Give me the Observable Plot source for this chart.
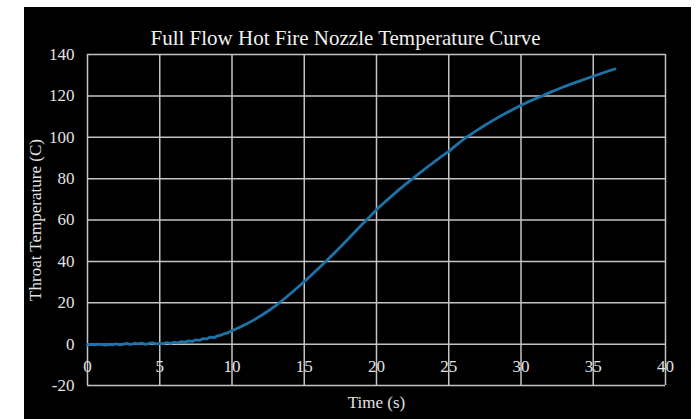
<!DOCTYPE html>
<html>
<head>
<meta charset="utf-8">
<script src="https://cdn.jsdelivr.net/npm/d3@7"></script>
<script src="https://cdn.jsdelivr.net/npm/@observablehq/plot@0.6"></script>
<style>
  html, body { margin: 0; padding: 0; background: #ffffff; }
  #bg { position: absolute; left: 24px; top: 7px; width: 667px; height: 412px; background: #000000; }
  #chart { position: absolute; left: 0; top: 0; }
</style>
</head>
<body>
<div id="bg"></div>
<div id="chart"></div>
<script>
const title = "Full Flow Hot Fire Nozzle Temperature Curve";
const xLabel = "Time (s)";
const yLabel = "Throat Temperature (C)";
const xTicks = [0, 5, 10, 15, 20, 25, 30, 35, 40];
const yTicks = [-20, 0, 20, 40, 60, 80, 100, 120, 140];

const time = [
  0, 0.25, 0.5, 0.75, 1, 1.25, 1.5, 1.75, 2, 2.25, 2.5, 2.75, 3, 3.25, 3.5, 3.75,
  4, 4.25, 4.5, 4.75, 5, 5.25, 5.5, 5.75, 6, 6.25, 6.5, 6.75, 7, 7.25, 7.5, 7.75,
  8, 8.25, 8.5, 8.75, 9, 9.25, 9.5, 9.75, 10, 10.5, 11, 11.5, 12, 12.5, 13, 13.5,
  14, 14.5, 15, 15.5, 16, 16.5, 17, 17.5, 18, 18.5, 19, 19.5, 20, 20.5, 21, 21.5,
  22, 22.5, 23, 23.5, 24, 24.5, 25, 25.5, 26, 26.5, 27, 27.5, 28, 28.5, 29, 29.5,
  30, 30.5, 31, 31.5, 32, 32.5, 33, 33.5, 34, 34.5, 35, 35.5, 36, 36.5
];
const temperature = [
  -0.3, -0.1, -0.4, 0.0, -0.2, -0.5, -0.1, -0.3, 0.1, -0.4, 0.0, 0.3, -0.2, 0.4, 0.1, 0.5,
  -0.1, 0.3, 0.6, 0.1, 0.4, 0.2, 0.7, 0.4, 0.9, 0.6, 1.2, 1.0, 1.6, 1.3, 2.1, 1.8,
  2.7, 2.5, 3.4, 3.1, 4.0, 4.4, 5.1, 5.6, 6.5, 8.0, 9.7, 11.6, 13.7, 16.0, 18.5, 21.2,
  24.1, 27.1, 30.2, 33.4, 36.7, 40.1, 43.5, 47.0, 50.6, 54.2, 57.8, 61.4, 65.0, 68.2, 71.3, 74.3,
  77.2, 80.0, 82.8, 85.5, 88.1, 90.7, 93.2, 96.1, 98.9, 101.3, 103.6, 105.8, 107.9, 109.9, 111.8, 113.7,
  115.5, 117.1, 118.6, 120.1, 121.7, 123.1, 124.5, 125.8, 127.0, 128.3, 129.5, 130.7, 131.9, 133.0
];

const data = time.map((t, i) => ({t, v: temperature[i]}));
const gridColor = "#c4c4c4";
const textColor = "#e2e2e2";
const font = "'Liberation Serif', 'Times New Roman', serif";

const chart = Plot.plot({
  width: 697,
  height: 419,
  marginLeft: 87,
  marginRight: 32,
  marginTop: 54,
  marginBottom: 34,
  style: {background: "transparent", fontFamily: font, color: textColor},
  x: {domain: [0, 40], axis: null},
  y: {domain: [-20, 140], axis: null},
  marks: [
    Plot.gridX(xTicks, {stroke: gridColor, strokeOpacity: 1, strokeWidth: 1.5}),
    Plot.gridY(yTicks, {stroke: gridColor, strokeOpacity: 1, strokeWidth: 1.5}),
    Plot.line(data, {x: "t", y: "v", stroke: "#1d72a8", strokeWidth: 2.8}),
    Plot.text(yTicks, {x: 0, y: d => d, text: d => `${d}`, textAnchor: "end", dx: -13, fontSize: 17, fill: textColor}),
    Plot.text(xTicks, {x: d => d, y: 0, text: d => `${d}`, textAnchor: "middle", dy: 22, fontSize: 17, fill: textColor}),
    Plot.text([title], {frameAnchor: "top", text: d => d, lineAnchor: "middle", dx: -31, dy: -16, fontSize: 21, fill: "#f0f0f0"}),
    Plot.text([xLabel], {frameAnchor: "bottom", text: d => d, lineAnchor: "middle", dy: 17, fontSize: 17, fill: textColor}),
    Plot.text([yLabel], {frameAnchor: "left", text: d => d, textAnchor: "middle", lineAnchor: "middle", dx: -52, rotate: -90, fontSize: 17, fill: textColor})
  ]
});
document.getElementById("chart").appendChild(chart);
</script>
</body>
</html>
